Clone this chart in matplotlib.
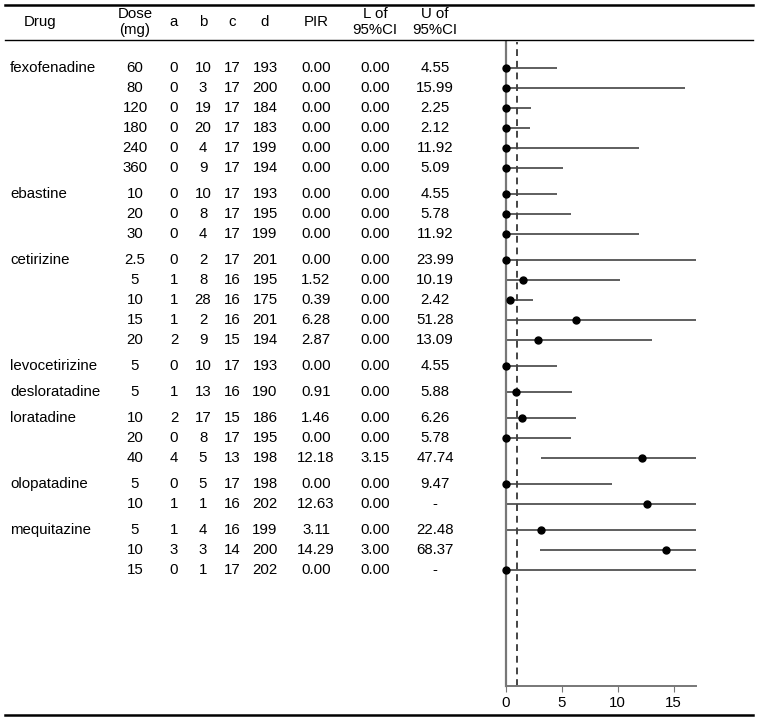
import numpy as np
import matplotlib.pyplot as plt
import matplotlib.transforms as mtransforms

plt.rcParams['font.family'] = ['Liberation Sans', 'DejaVu Sans']

drugs = ["fexofenadine", "ebastine", "cetirizine", "levocetirizine",
         "desloratadine", "loratadine", "olopatadine", "mequitazine"]
group_sizes = [6, 3, 5, 1, 1, 3, 2, 3]
dose = ["60", "80", "120", "180", "240", "360",
        "10", "20", "30",
        "2.5", "5", "10", "15", "20",
        "5",
        "5",
        "10", "20", "40",
        "5", "10",
        "5", "10", "15"]
a = [0, 0, 0, 0, 0, 0, 0, 0, 0, 0, 1, 1, 1, 2, 0, 1, 2, 0, 4, 0, 1, 1, 3, 0]
b = [10, 3, 19, 20, 4, 9, 10, 8, 4, 2, 8, 28, 2, 9, 10, 13, 17, 8, 5, 5, 1, 4, 3, 1]
c = [17, 17, 17, 17, 17, 17, 17, 17, 17, 17, 16, 16, 16, 15, 17, 16, 15, 17, 13, 17, 16, 16, 14, 17]
d = [193, 200, 184, 183, 199, 194, 193, 195, 199, 201, 195, 175, 201, 194, 193, 190,
     186, 195, 198, 198, 202, 199, 200, 202]
pir = [0.00, 0.00, 0.00, 0.00, 0.00, 0.00, 0.00, 0.00, 0.00, 0.00, 1.52, 0.39, 6.28, 2.87,
       0.00, 0.91, 1.46, 0.00, 12.18, 0.00, 12.63, 3.11, 14.29, 0.00]
lower = [0.00] * 18 + [3.15, 0.00, 0.00, 0.00, 3.00, 0.00]
upper = [4.55, 15.99, 2.25, 2.12, 11.92, 5.09, 4.55, 5.78, 11.92, 23.99, 10.19, 2.42,
         51.28, 13.09, 4.55, 5.88, 6.26, 5.78, 47.74, 9.47, None, 22.48, 68.37, None]

xmax = 17
gap = 0.3

# row positions with a small gap between drug groups
ypos = []
group_first = []
y = 0.0
for g, n in enumerate(group_sizes):
    if g > 0:
        y += gap
    group_first.append(y)
    for i in range(n):
        ypos.append(y)
        y += 1
ypos = np.array(ypos)

fig = plt.figure(figsize=(7.58, 7.2), dpi=100)
W, H = 758, 720

ax = fig.add_axes([506 / W, 1 - 686 / H, 190 / W, 644 / H])
ax.set_xlim(0, xmax)
ax.set_ylim(ypos[-1] + 5.8, -1.3)

# CI lines and points
for yi, lo, up, p in zip(ypos, lower, upper, pir):
    hi = xmax if up is None else min(up, xmax)
    ax.plot([lo, hi], [yi, yi], color='#333333', lw=1.1, solid_capstyle='butt')
ax.plot(pir, ypos, 'o', color='black', ms=5, zorder=3, clip_on=False)
ax.axvline(1, color='#444444', lw=1.4, ls=(0, (3.5, 2.5)))

for s in ['top', 'right']:
    ax.spines[s].set_visible(False)
ax.spines['left'].set_color('#777777')
ax.spines['left'].set_linewidth(1.6)
ax.spines['bottom'].set_color('#777777')
ax.spines['bottom'].set_linewidth(1.4)
ax.set_yticks([])
ax.set_xticks([0, 5, 10, 15])
ax.tick_params(axis='x', length=4, color='#777777', labelsize=10.8, pad=3)

# table text, x in figure pixels, y in data rows
trans = mtransforms.blended_transform_factory(fig.transFigure, ax.transData)
fs = 10.8
for name, y0 in zip(drugs, group_first):
    fig.text(10 / W, y0, name, transform=trans, ha='left', va='center', fontsize=fs)

def fmt(v):
    return "-" if v is None else f"{v:.2f}"

cols = [(135, dose), (174, a), (203, b), (232, c), (265, d),
        (316, [fmt(v) for v in pir]), (375, [fmt(v) for v in lower]),
        (435, [fmt(v) for v in upper])]
for cx, vals in cols:
    for yi, v in zip(ypos, vals):
        fig.text(cx / W, yi, str(v), transform=trans, ha='center', va='center', fontsize=fs)

# header
headers = [(40, "Drug"), (135, "Dose\n(mg)"), (174, "a"), (203, "b"), (232, "c"),
           (265, "d"), (316, "PIR"), (375, "L of\n95%CI"), (435, "U of\n95%CI")]
for hx, txt in headers:
    fig.text(hx / W, 1 - 22 / H, txt, ha='center', va='center', fontsize=fs,
             linespacing=1.15)

# horizontal rules
fig.add_artist(plt.Line2D([5 / W, 753 / W], [1 - 5 / H, 1 - 5 / H], color='black', lw=1.8))
fig.add_artist(plt.Line2D([5 / W, 753 / W], [1 - 40 / H, 1 - 40 / H], color='black', lw=1.0))
fig.add_artist(plt.Line2D([5 / W, 753 / W], [1 - 715 / H, 1 - 715 / H], color='black', lw=1.8))

fig.savefig("out.png", dpi=100)
